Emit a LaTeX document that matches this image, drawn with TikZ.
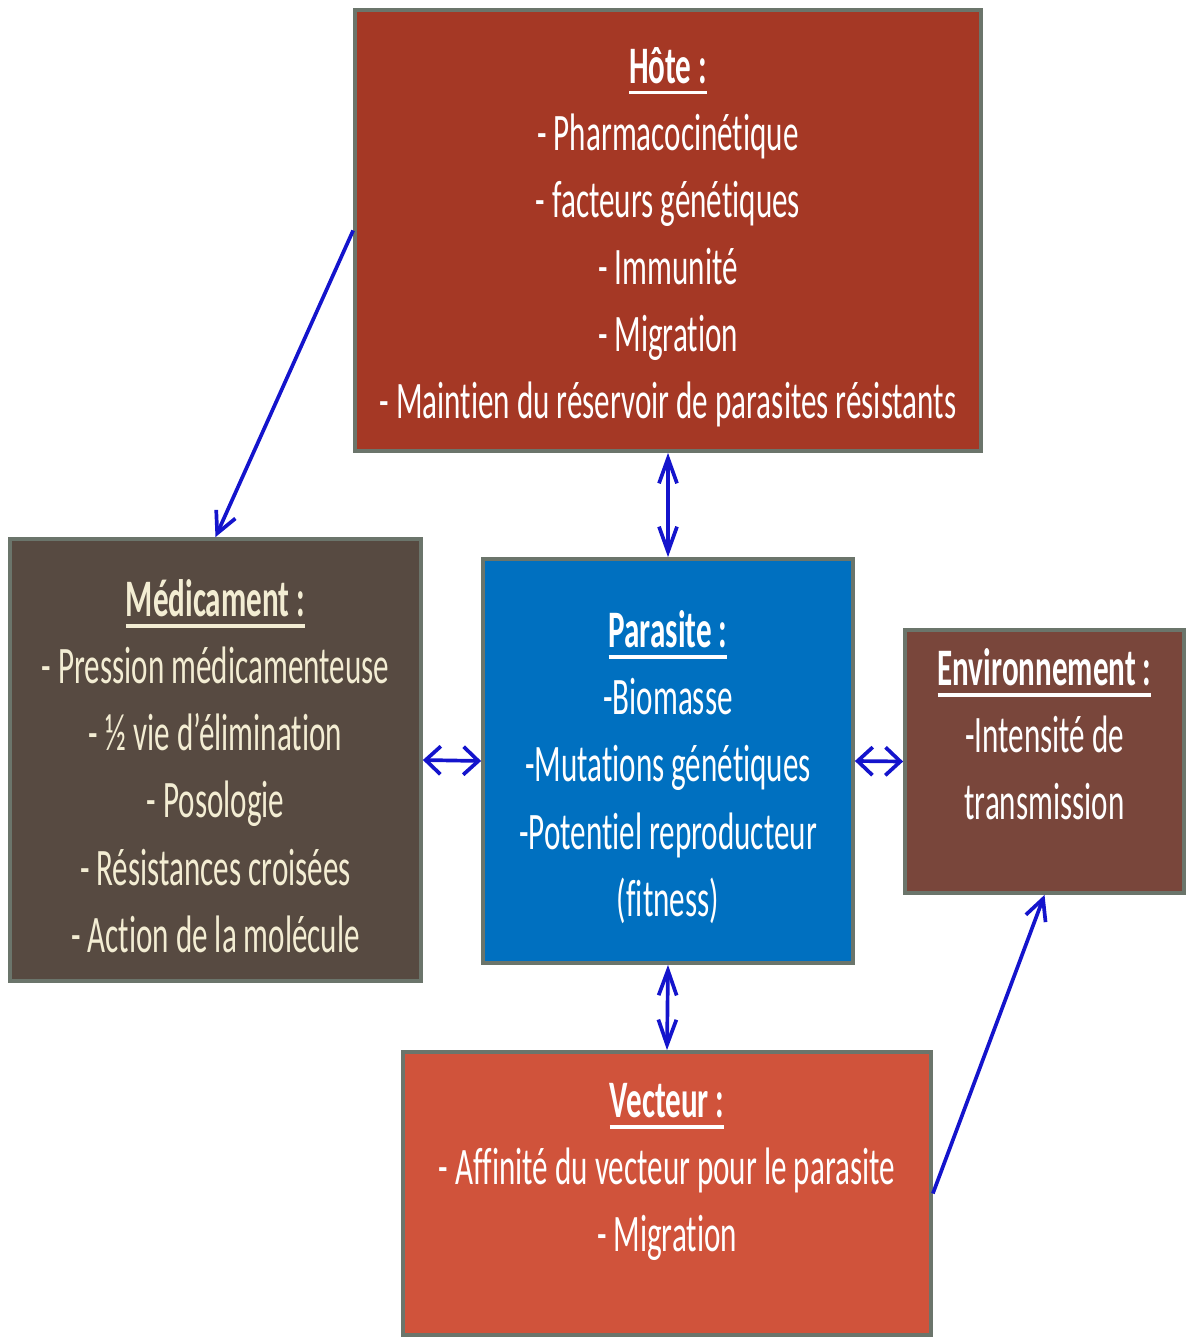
\documentclass[tikz,border=0pt]{standalone}
\usepackage{fontspec}
\setmainfont{Carlito}[FakeStretch=0.59, Ligatures=NoCommon]
\usetikzlibrary{arrows.meta}
\definecolor{hotefond}{HTML}{A53825}
\definecolor{medfond}{HTML}{574A41}
\definecolor{parafond}{HTML}{0070C0}
\definecolor{envfond}{HTML}{79463B}
\definecolor{vectfond}{HTML}{D0533B}
\definecolor{bordgris}{HTML}{6B756B}
\definecolor{creme}{HTML}{F3EDD3}
\definecolor{fleche}{HTML}{1414CC}
\newcommand{\titre}[1]{\rule{0pt}{28pt}\textbf{\setbox0\hbox{#1}\rlap{\rule[-6.5pt]{\wd0}{2.2pt}}\box0}}
\tikzset{boite/.style={draw=bordgris, line width=2.2pt, align=center, text=white,
  inner sep=0pt, font=\fontsize{30}{38.2}\selectfont}}
\tikzset{lien/.style={draw=fleche, line width=2.1pt}}
\tikzset{vert/.style={lien, {Straight Barb[length=0.5cm,width=0.36cm]}-{Straight Barb[length=0.5cm,width=0.36cm]}}}
\tikzset{horiz/.style={lien, {Straight Barb[length=0.3cm,width=0.56cm]}-{Straight Barb[length=0.3cm,width=0.56cm]}}}
\tikzset{diag/.style={lien, -{Straight Barb[length=0.42cm,width=0.42cm]}}}

\begin{document}
\begin{tikzpicture}[x=0.02cm, y=-0.02cm]
      \useasboundingbox (0,0) rectangle (1186,1337);
      \node (hote) at (668,230.5) [boite, fill=hotefond, minimum width=12.52cm, minimum height=8.82cm]
        {\titre{Hôte :}\\ - Pharmacocinétique\\ - facteurs génétiques\\ - Immunité\\ - Migration\\ - Maintien du réservoir de parasites résistants};
      \node (medic) at (215.5,760) [boite, fill=medfond, text=creme, minimum width=8.22cm, minimum height=8.84cm]
        {\titre{Médicament :}\\ - Pression médicamenteuse\\ - ½ vie d’élimination\\ - Posologie\\ - Résistances croisées\\ - Action de la molécule};
      \node (para) at (668,761) [boite, fill=parafond, minimum width=7.4cm, minimum height=8.08cm]
        {\titre{Parasite :}\\ -Biomasse\\ -Mutations génétiques\\ -Potentiel reproducteur\\ (fitness)};
      \node (env) at (1044.5,761.5) [boite, fill=envfond, minimum width=5.58cm, minimum height=5.26cm]
        {\titre{Environnement :}\\ -Intensité de\\ transmission\\ ~};
      \node (vect) at (667,1193.5) [boite, fill=vectfond, minimum width=10.56cm, minimum height=5.66cm]
        {\titre{Vecteur :}\\ - Affinité du vecteur pour le parasite\\ - Migration\\ ~};
      % liens
      \draw [diag] (hote.west) -- (medic.north);
      \draw [vert] (hote.south) -- (para.north);
      \draw [horiz] (medic.east) -- (para.west);
      \draw [horiz] (para.east) -- (env.west);
      \draw [vert] (para.south) -- (vect.north);
      \draw [diag] (vect.east) -- (env.south);
    \end{tikzpicture}
\end{document}
